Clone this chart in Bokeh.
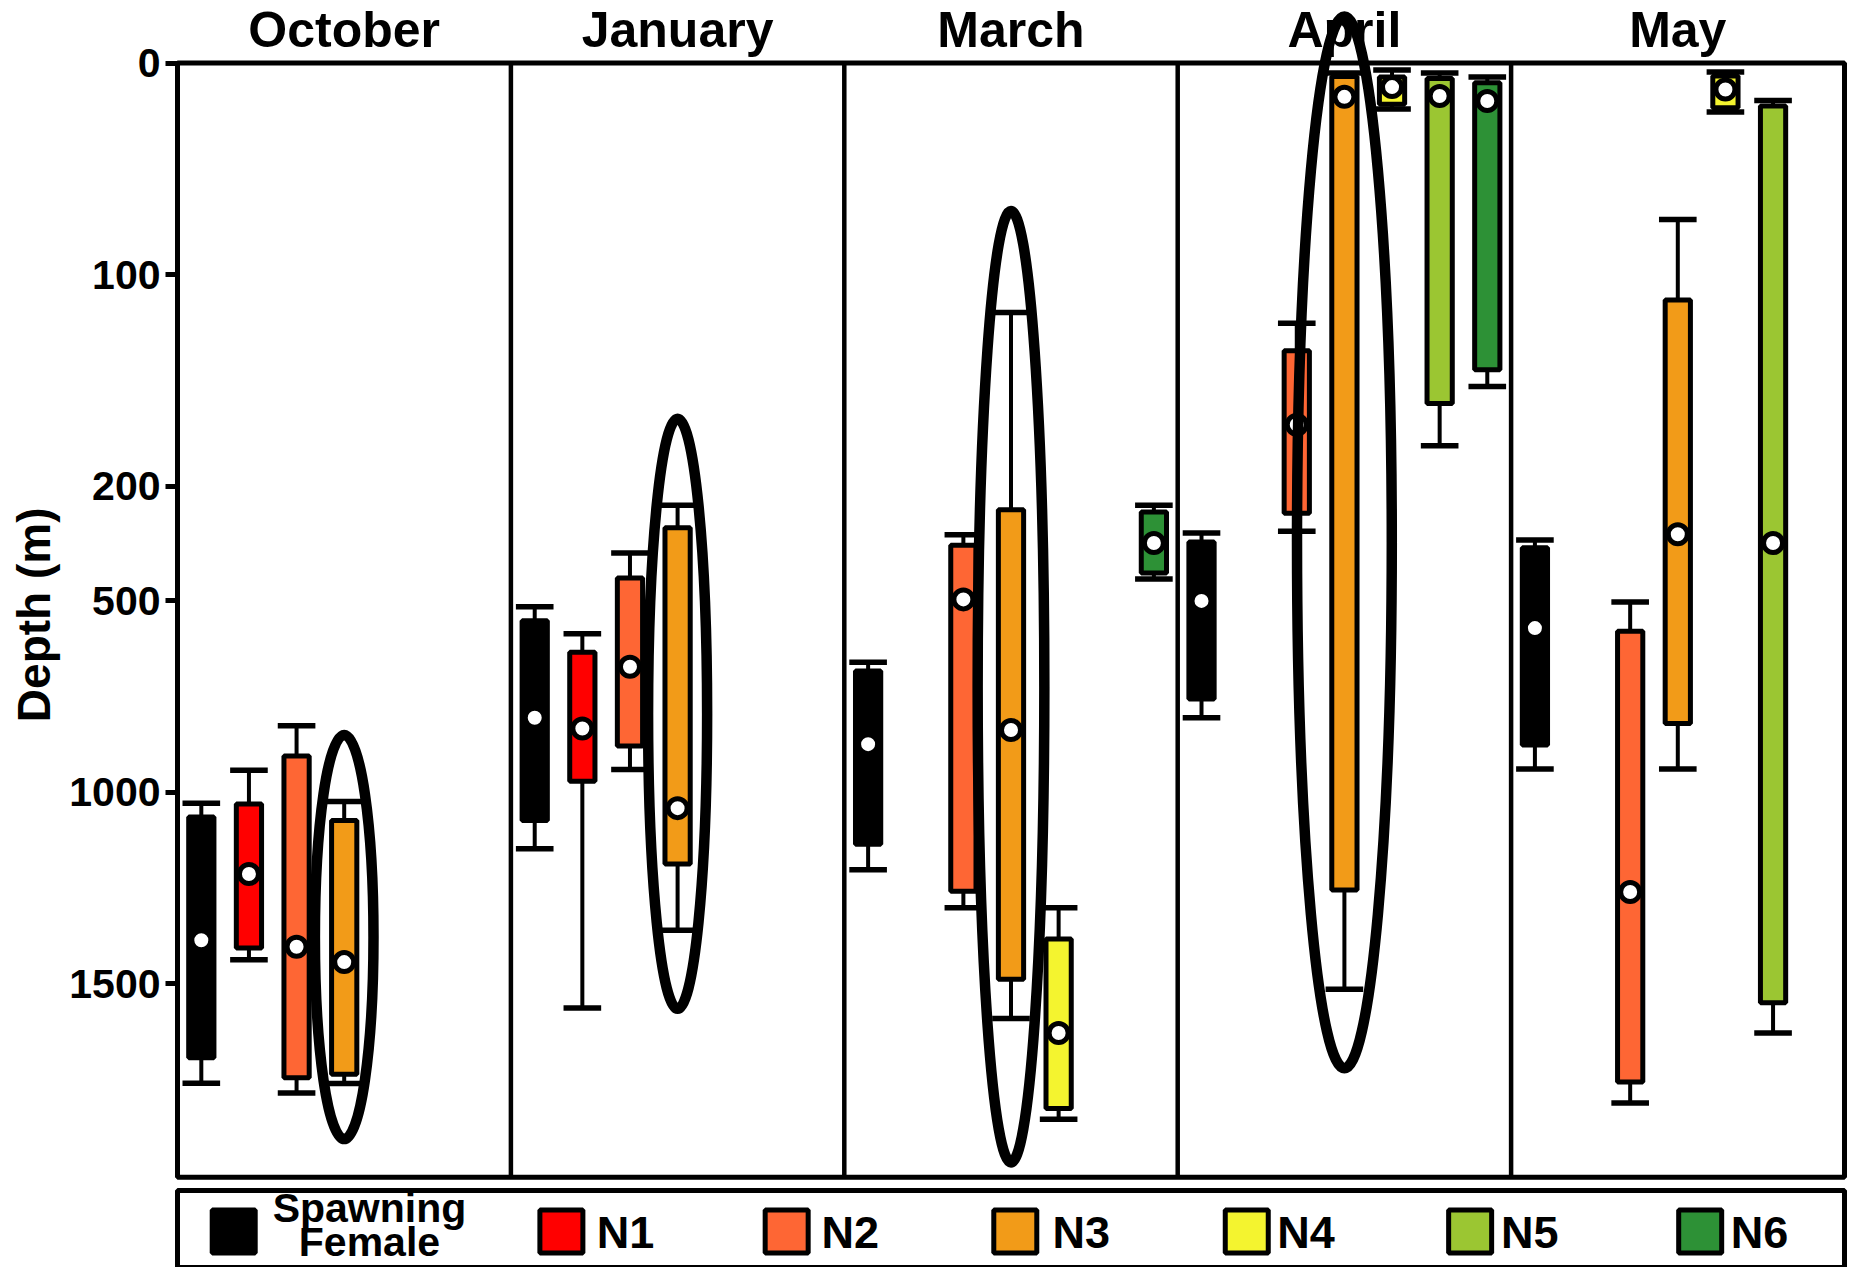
import numpy as np
from bokeh.plotting import figure
from bokeh.models import Range1d, FactorRange, FixedTicker
from bokeh.core.properties import value
from bokeh.embed import file_html
from bokeh.resources import INLINE

# ---------------- data ----------------
MONTHS = ["October", "January", "March", "April", "May"]
STAGES = ["Spawning Female", "N1", "N2", "N3", "N4", "N5", "N6"]
STAGE_COLORS = ["#000000", "#FF0000", "#FE6634", "#F29B18", "#F4F42F", "#9BC632", "#2D9136"]
LEGEND_LABELS = ["N1", "N2", "N3", "N4", "N5", "N6"]

BOX_MONTH = (["October"] * 4 + ["January"] * 4 + ["March"] * 5 +
             ["April"] * 6 + ["May"] * 5)
BOX_STAGE = ["Spawning Female", "N1", "N2", "N3",
             "Spawning Female", "N1", "N2", "N3",
             "Spawning Female", "N2", "N3", "N4", "N6",
             "Spawning Female", "N2", "N3", "N4", "N5", "N6",
             "Spawning Female", "N2", "N3", "N4", "N5"]
WHISKER_SHALLOW = [1028, 942, 826, 1024,
                   515, 586, 375, 250,
                   660, 327, 118, 1301, 250,
                   323, 123, 4.7, 3.3, 4.7, 6.6,
                   341, 503, 74, 4.3, 17.7]
BOX_SHALLOW = [1064, 1030, 905, 1073,
               552, 634, 440, 309,
               683, 355, 262, 1383, 268,
               346, 136, 6.4, 6.6, 7.3, 9.3,
               361, 579, 112, 6.1, 20.3]
MEAN_DEPTH = [1386, 1213, 1403, 1443,
              805, 833, 672, 1041,
              874, 496, 837, 1628, 349,
              500, 171, 16, 11.4, 15.6, 18,
              571, 1260, 326, 12.5, 349]
BOX_DEEP = [1693, 1406, 1745, 1736,
            1073, 971, 879, 1187,
            1135, 1258, 1488, 1825, 427,
            756, 271, 1255, 19.5, 161, 145,
            876, 1756, 820, 21.1, 1549]
WHISKER_DEEP = [1759, 1437, 1785, 1760,
                1147, 1563, 940, 1360,
                1202, 1301, 1590, 1853, 443,
                805, 318, 1514, 21.8, 181, 153,
                939, 1811, 939, 23.2, 1628]

HIGHLIGHT_MONTH = ["October", "January", "March", "April"]
HIGHLIGHT_STAGE = ["N3", "N3", "N3", "N3"]
HIGHLIGHT_SHALLOW = [850, 168, 70, -22]
HIGHLIGHT_DEEP = [1905, 1566, 1966, 1720]

TICK_DEPTHS = [0, 100, 200, 500, 1000, 1500]
DEPTH_MAX = 2005

# ---------------- styling / layout ----------------
HIGHLIGHT_WIDTH = [1.23, 1.24, 1.40, 1.99]
BREAK_DEPTH = 200.0
COMPRESSION = 0.1811          # scale of the axis below the break
W, H = 1850, 1267
FRAME_LEFT = 171
X_PAD = 0.126
ZERO_PX = 62.5                # canvas px of depth 0
PX_PER_T = 2.115
FONT = "Liberation Sans"
LEGEND_X = [1.18, 8.06, 12.79, 17.59, 22.45, 27.14, 31.97]
LEGEND_LABEL_X = [8.80, 13.52, 18.37, 23.09, 27.79, 32.61]
SF_LABEL_X = 4.03


def to_axis(d):
    d = np.asarray(d, dtype=float)
    return np.where(d <= BREAK_DEPTH, d, BREAK_DEPTH + (d - BREAK_DEPTH) * COMPRESSION)


def px_to_t(px):
    return (px - ZERO_PX) / PX_PER_T


factors = [(m, s) for m in MONTHS for s in STAGES]
n_slots = len(factors)
x_range = FactorRange(factors=factors, group_padding=0, factor_padding=0,
                      subgroup_padding=0, range_padding=X_PAD,
                      range_padding_units="absolute")
y_range = Range1d(start=px_to_t(H), end=px_to_t(0))

p = figure(width=W, height=H, x_range=x_range, y_range=y_range,
           output_backend="svg", toolbar_location=None, title=None,
           x_axis_location=None, min_border=0, min_border_left=FRAME_LEFT)
p.outline_line_color = None
p.xgrid.visible = False
p.ygrid.visible = False
p.background_fill_color = "white"

# y axis with broken scale
tick_pos = [float(v) for v in to_axis(TICK_DEPTHS)]
ax = p.yaxis[0]
ax.ticker = FixedTicker(ticks=tick_pos)
ax.major_label_overrides = {t: str(d) for t, d in zip(tick_pos, TICK_DEPTHS)}
ax.axis_line_color = None
ax.major_tick_out = 6
ax.major_tick_in = 6
ax.major_tick_line_width = 5
ax.major_tick_line_color = "black"
ax.minor_tick_line_color = None
ax.major_label_standoff = 5
ax.major_label_text_font = FONT
ax.major_label_text_font_style = "bold"
ax.major_label_text_font_size = "41px"
ax.major_label_text_color = "black"
ax.axis_label = "\u00a0\u00a0\u00a0Depth (m)"
ax.axis_label_standoff = 6
ax.axis_label_text_font = FONT
ax.axis_label_text_font_style = "bold"
ax.axis_label_text_font_size = "46px"
ax.axis_label_text_color = "black"

t_bottom = float(to_axis(DEPTH_MAX))

# frame and month separators
p.quad(left=[0], right=[n_slots], top=[0], bottom=[t_bottom], fill_color=None,
       line_color="black", line_width=5)
sep = [len(STAGES) * i for i in range(1, len(MONTHS))]
p.segment(x0=sep, y0=[0] * len(sep), x1=sep, y1=[t_bottom] * len(sep),
          line_color="black", line_width=4.5)

# boxes
box_x = list(zip(BOX_MONTH, BOX_STAGE))
box_colors = [STAGE_COLORS[STAGES.index(s)] for s in BOX_STAGE]
p.segment(x0=box_x, y0=to_axis(WHISKER_SHALLOW), x1=box_x, y1=to_axis(WHISKER_DEEP),
          line_color="black", line_width=4)
p.rect(x=box_x + box_x, y=np.concatenate([to_axis(WHISKER_SHALLOW), to_axis(WHISKER_DEEP)]),
       width=0.79, height=5.5, height_units="screen", fill_color="black", line_color=None)
p.vbar(x=box_x, width=0.53, top=to_axis(BOX_SHALLOW), bottom=to_axis(BOX_DEEP),
       fill_color=box_colors, line_color="black", line_width=5)
p.scatter(x=box_x, y=to_axis(MEAN_DEPTH), size=19, marker="circle",
          fill_color="white", line_color="black", line_width=5)

# month titles
p.text(x=MONTHS, y=[px_to_t(29)] * len(MONTHS), text=MONTHS,
       text_align="center", text_baseline="middle",
       text_font=value(FONT), text_font_style="bold", text_font_size="50px",
       text_color="black")

# highlight ellipses
hs = to_axis(HIGHLIGHT_SHALLOW)
hd = to_axis(HIGHLIGHT_DEEP)
p.ellipse(x=list(zip(HIGHLIGHT_MONTH, HIGHLIGHT_STAGE)), y=(hs + hd) / 2,
          width=HIGHLIGHT_WIDTH, height=np.abs(hd - hs),
          fill_color=None, line_color="black", line_width=10.5)

# legend
p.quad(left=[0], right=[n_slots], top=[px_to_t(1190)], bottom=[px_to_t(1267)],
       fill_color=None, line_color="black", line_width=5)
p.rect(x=LEGEND_X, y=[px_to_t(1231)] * len(LEGEND_X), width=43, height=43,
       width_units="screen", height_units="screen",
       fill_color=STAGE_COLORS, line_color="black", line_width=5)
p.text(x=LEGEND_LABEL_X, y=[px_to_t(1231.5)] * len(LEGEND_LABELS), text=LEGEND_LABELS,
       text_align="left", text_baseline="middle",
       text_font=value(FONT), text_font_style="bold", text_font_size="45px",
       text_color="black")
p.text(x=[SF_LABEL_X, SF_LABEL_X], y=[px_to_t(1207), px_to_t(1241)],
       text=["Spawning", "Female"], text_align="center", text_baseline="middle",
       text_font=value(FONT), text_font_style="bold", text_font_size="41px",
       text_color="black")

open("out.html", "w").write(file_html(p, INLINE))
